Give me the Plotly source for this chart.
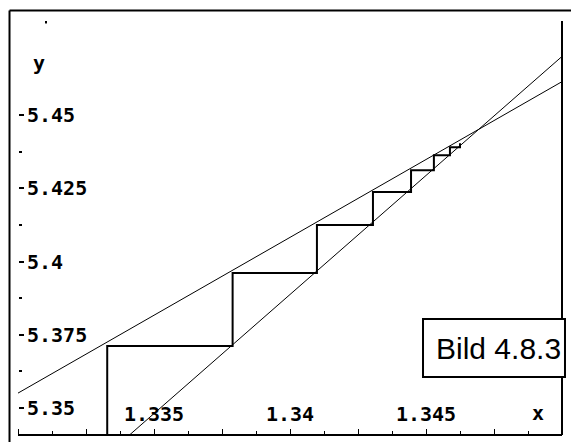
import plotly.graph_objects as go

# Axis windows
x_range = [1.33, 1.35]
y_range = [5.3408, 5.4821]

# Line A (flatter) and line B (steeper), given by their end points
line_a_x = [1.33, 1.35]
line_a_y = [5.3551, 5.4614]
line_b_x = [1.3340, 1.35]
line_b_y = [5.3400, 5.4700]

# Staircase of the iteration: x positions and the levels reached on line A
stair_x = [1.33328, 1.33789, 1.34099, 1.34305, 1.34445, 1.34529, 1.34588, 1.34625]
stair_y = [5.3712, 5.3961, 5.4125, 5.4237, 5.4312, 5.4363, 5.4390, 5.4404]

# Tick positions and labels
x_tickvals = [1.33, 1.3325, 1.335, 1.3375, 1.34, 1.3425, 1.345, 1.3475, 1.35]
x_ticktext = ["", "", "1.335", "", "1.34", "", "1.345", "", ""]
y_tickvals = [5.35, 5.375, 5.4, 5.425, 5.45]
y_ticktext = ["5.35", "5.375", "5.4", "5.425", "5.45"]
y_minorvals = [5.3625, 5.3875, 5.4125, 5.4375]

# Build the staircase path: up from the axis, then alternate horizontal/vertical
path_x = [stair_x[0], stair_x[0]]
path_y = [y_range[0], stair_y[0]]
for i in range(1, len(stair_x)):
    path_x += [stair_x[i], stair_x[i]]
    path_y += [stair_y[i - 1], stair_y[i]]

mono = "DejaVu Sans Mono"
tick_font = dict(family=mono, size=20, weight="bold", color="black")

fig = go.Figure()
fig.add_trace(go.Scatter(x=line_a_x, y=line_a_y, mode="lines",
                         line=dict(color="black", width=1), showlegend=False))
fig.add_trace(go.Scatter(x=line_b_x, y=line_b_y, mode="lines",
                         line=dict(color="black", width=1), showlegend=False))
fig.add_trace(go.Scatter(x=path_x, y=path_y, mode="lines",
                         line=dict(color="black", width=2), showlegend=False))

fig.update_layout(
    width=571, height=442,
    margin=dict(l=18, r=9, t=21, b=7),
    paper_bgcolor="white", plot_bgcolor="white",
    font=dict(family=mono, color="black", size=20),
    # x axis sits on the bottom edge but faces up, so ticks and labels fall inside
    xaxis=dict(
        range=x_range, showgrid=False, zeroline=False,
        anchor="free", position=0, side="top",
        showline=True, linecolor="black", linewidth=2, mirror=True,
        ticks="outside", ticklen=5, tickwidth=1, tickcolor="black",
        tickvals=x_tickvals, ticktext=x_ticktext,
        ticklabelstandoff=0,
        tickfont=tick_font,
        minor=dict(ticks="outside", ticklen=3, tickwidth=1, tickcolor="black",
                   dtick=0.00125, tick0=1.33),
    ),
    # y axis sits on the left edge but faces right, so ticks and labels fall inside
    yaxis=dict(
        range=y_range, showgrid=False, zeroline=False, showline=False,
        anchor="free", position=0, side="right",
        ticks="outside", ticklen=5, tickwidth=2, tickcolor="black",
        tickvals=y_tickvals, ticktext=y_ticktext,
        ticklabelstandoff=-1,
        tickfont=tick_font,
        minor=dict(ticks="outside", ticklen=3, tickwidth=2, tickcolor="black",
                   tickvals=y_minorvals),
    ),
    shapes=[
        # right edge of the plotting box
        dict(type="line", xref="paper", yref="paper", x0=1, x1=1, y0=0, y1=1,
             line=dict(color="black", width=2)),
        # small mark on the top edge
        dict(type="line", xref="paper", yref="paper", x0=0.0515, x1=0.0515,
             y0=1, y1=0.994, line=dict(color="black", width=2)),
        # outer frame (left and top)
        dict(type="line", xref="paper", yref="paper", x0=-0.0156, x1=-0.0156,
             y0=-0.05, y1=1.0254, line=dict(color="black", width=2)),
        dict(type="line", xref="paper", yref="paper", x0=-0.0156, x1=1.03,
             y0=1.0254, y1=1.0254, line=dict(color="black", width=2)),
        # caption box
        dict(type="rect", xref="paper", yref="paper", x0=0.7445, x1=1.0055,
             y0=0.1401, y1=0.2802, fillcolor="white",
             line=dict(color="black", width=2), layer="above"),
    ],
    annotations=[
        dict(text="Bild 4.8.3", xref="paper", yref="paper", x=0.8824, y=0.2101,
             xanchor="center", yanchor="middle", showarrow=False,
             font=dict(family="Liberation Sans", size=30, color="black")),
        dict(text="y", xref="paper", yref="paper", x=0.0386, y=0.8986,
             xanchor="center", yanchor="middle", showarrow=False, font=tick_font),
        dict(text="x", xref="paper", yref="paper", x=0.9559, y=0.0531,
             xanchor="center", yanchor="middle", showarrow=False, font=tick_font),
    ],
)

fig.write_html("out.html")
